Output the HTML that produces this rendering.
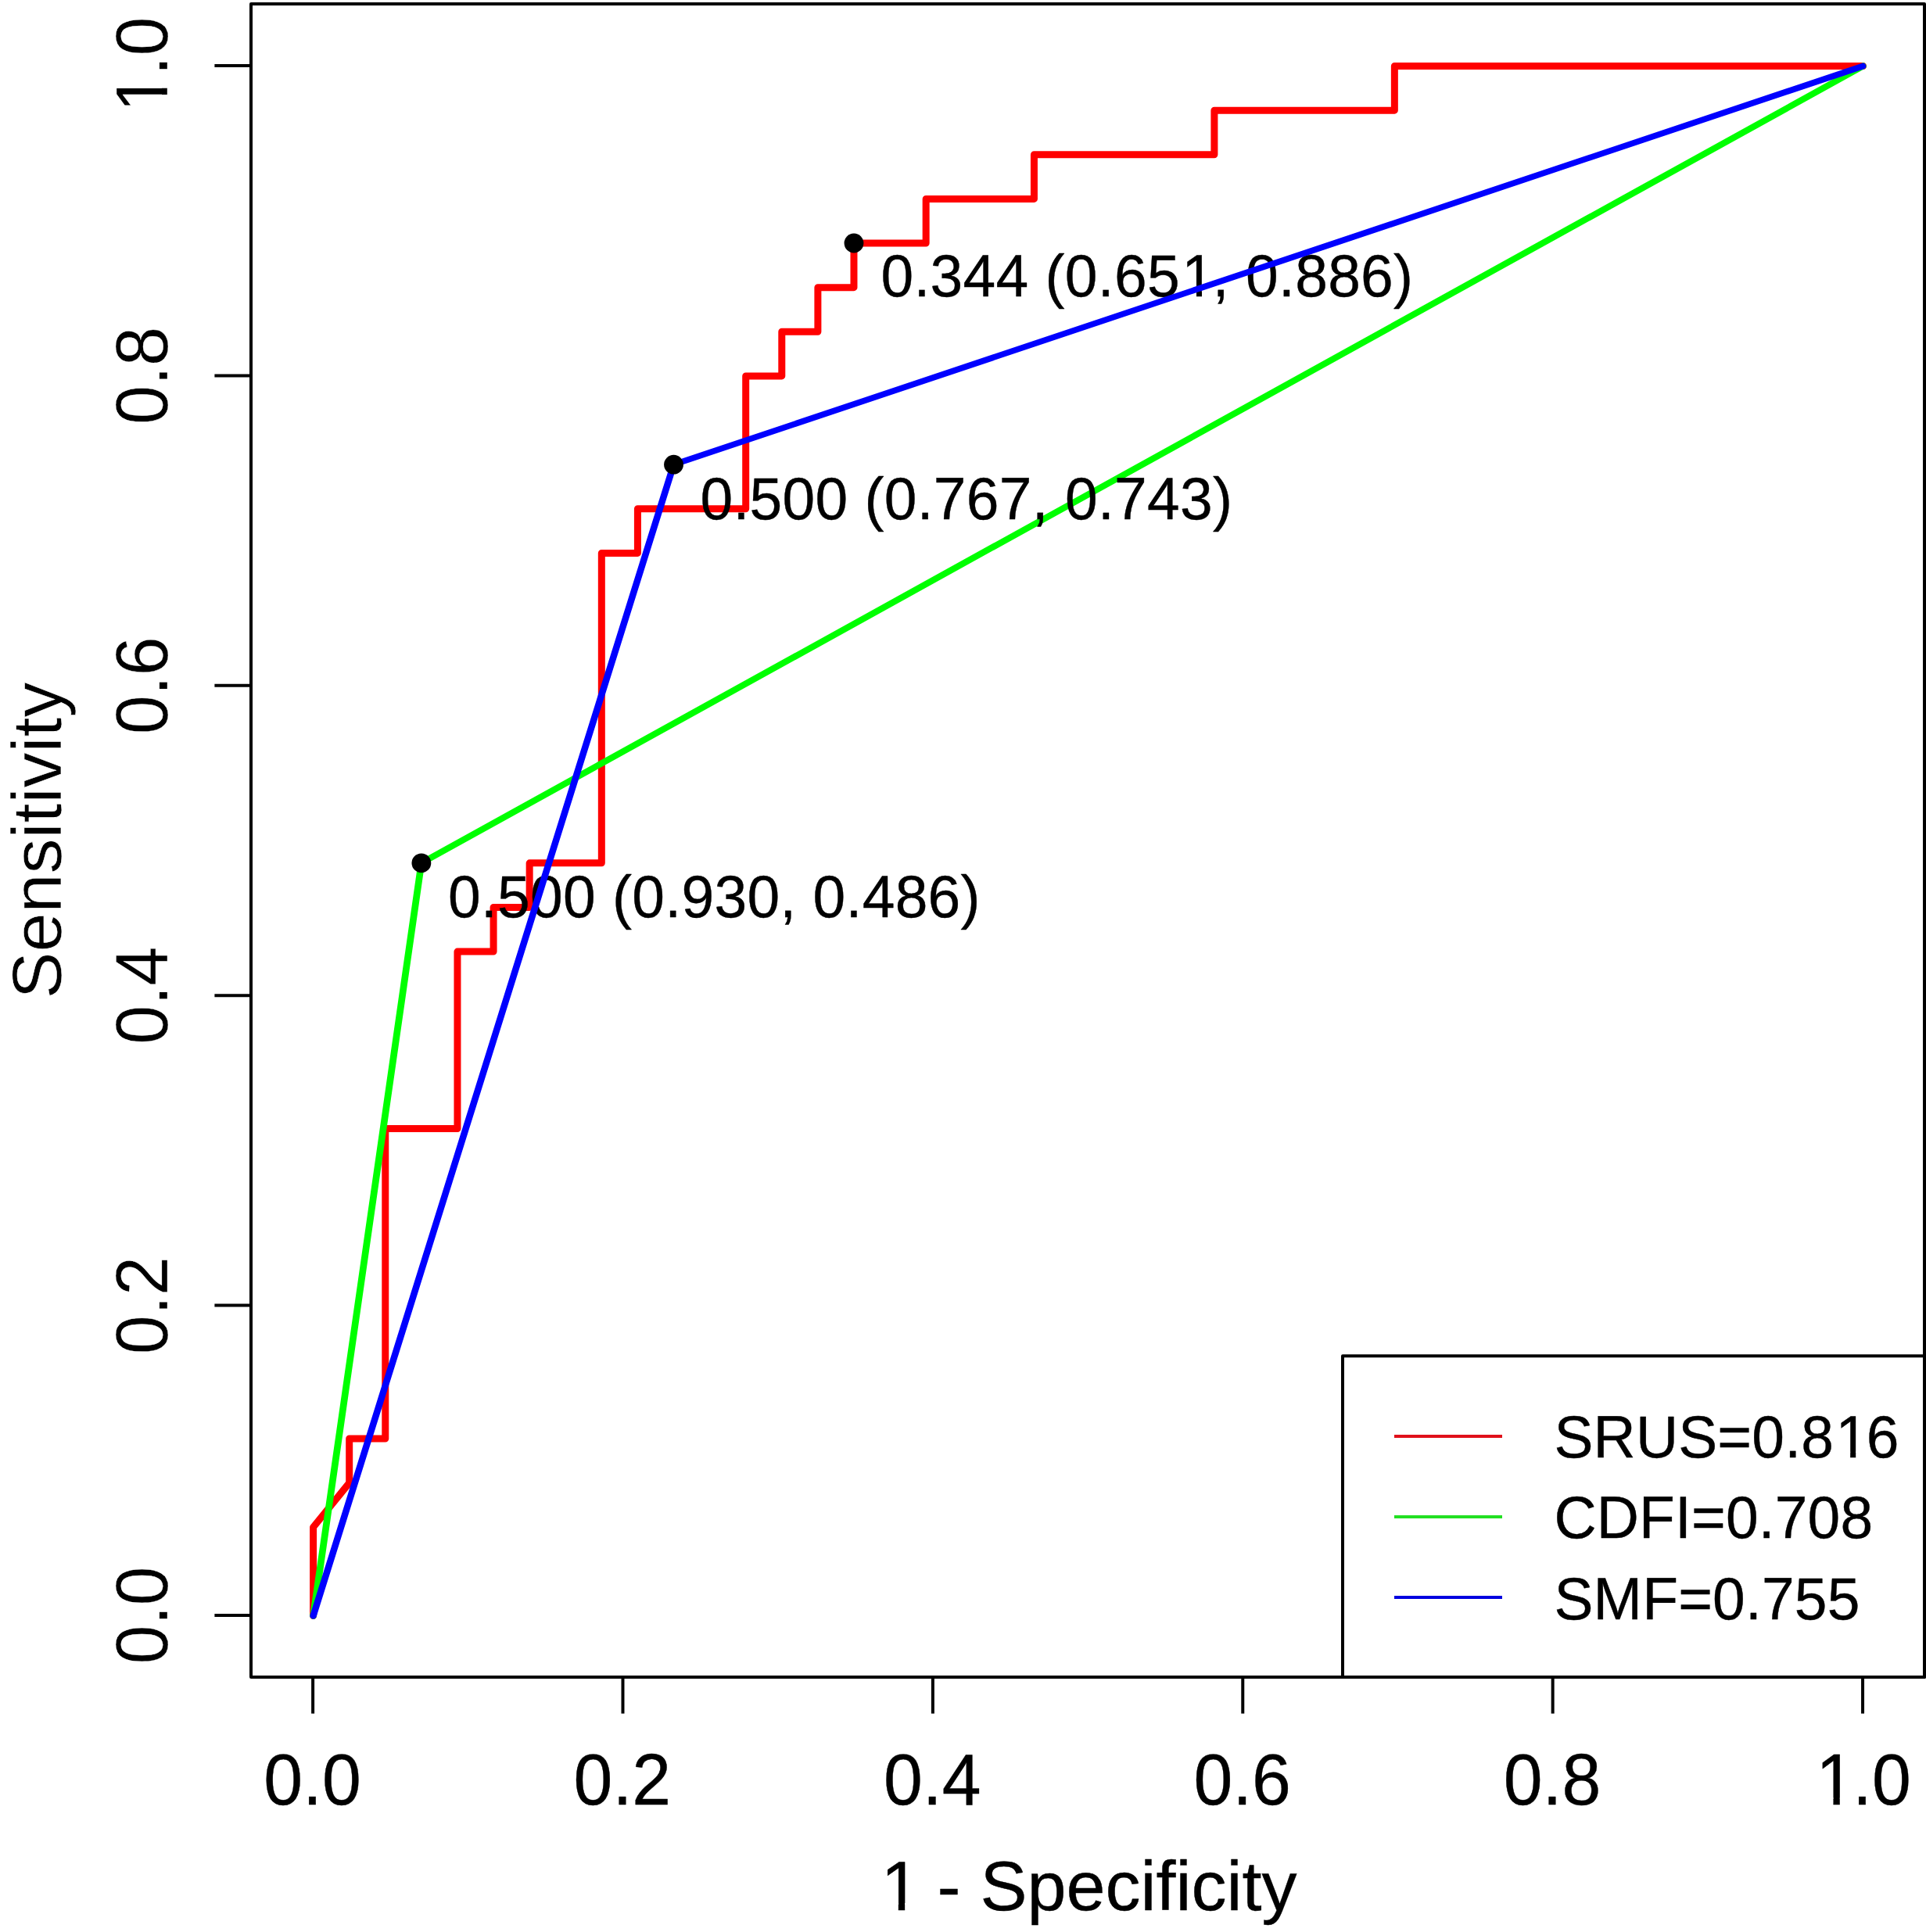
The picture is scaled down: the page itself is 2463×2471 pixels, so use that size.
<!DOCTYPE html>
<html lang="en"><head><meta charset="utf-8"><title>ROC curves</title>
<style>html,body{margin:0;padding:0;background:#fff}svg{display:block}text{font-family:"Liberation Sans",sans-serif;font-kerning:none;fill:#000;stroke-linejoin:round}</style>
</head><body>
<svg width="2463" height="2471" viewBox="0 0 2463 2471">
<defs><clipPath id="k1"><path clip-rule="evenodd" d="M-3000 -3000H3000V3000H-3000ZM389.13 -7.40H403.58V2.70H389.13ZM410.60 -7.40H424.46V2.70H410.60Z"/></clipPath><clipPath id="k2"><path clip-rule="evenodd" d="M-3000 -3000H3000V3000H-3000ZM364.33 -7.40H378.77V2.70H364.33ZM385.80 -7.40H399.66V2.70H385.80Z"/></clipPath><clipPath id="k3"><path clip-rule="evenodd" d="M-3000 -3000H3000V3000H-3000ZM-53.99 -8.49H-36.99V2.70H-53.99ZM-28.68 -8.49H-12.37V2.70H-28.68Z"/></clipPath><clipPath id="k4"><path clip-rule="evenodd" d="M-3000 -3000H3000V3000H-3000ZM-54.23 -8.47H-37.10V2.65H-54.23ZM-28.85 -8.47H-12.43V2.65H-28.85Z"/></clipPath><clipPath id="k5"><path clip-rule="evenodd" d="M-3000 -3000H3000V3000H-3000ZM-259.26 -8.52H-242.18V2.70H-259.26ZM-233.83 -8.52H-217.46V2.70H-233.83Z"/></clipPath></defs>
<rect x="0" y="0" width="2463" height="2471" fill="#fff"/>
<path d="M400.60 2066.50 L400.60 1953.24 L446.69 1896.61 L446.69 1839.99 L492.78 1839.99 L492.78 1443.59 L584.97 1443.59 L584.97 1217.07 L631.06 1217.07 L631.06 1160.44 L677.15 1160.44 L677.15 1103.81 L769.33 1103.81 L769.33 707.41 L815.43 707.41 L815.43 650.79 L953.70 650.79 L953.70 480.90 L999.79 480.90 L999.79 424.27 L1045.89 424.27 L1045.89 367.64 L1091.98 367.64 L1091.98 311.01 L1184.16 311.01 L1184.16 254.39 L1322.44 254.39 L1322.44 197.76 L1552.90 197.76 L1552.90 141.13 L1783.36 141.13 L1783.36 84.50 L2382.55 84.50" fill="none" stroke="#ff0000" stroke-linecap="round" stroke-linejoin="round" stroke-width="9.00"/>
<circle cx="1091.98" cy="311.01" r="12.4" fill="#000"/>
<text transform="translate(1126.40 379.30) scale(1 1.023)" x="0.00" y="0" font-size="75" stroke-width="0.40" stroke="#000" letter-spacing="0.27" dx="0 0 0 0 0 0 0 0 0 0 0 2.48 -2.48" clip-path="url(#k1)">0.344 (0.651, 0.886)</text>
<g fill="none" stroke="#00ff00" stroke-linecap="round">
<path d="M400.60 2066.50 L538.88 1103.81" stroke-width="8.70"/>
<path d="M538.88 1103.81 L2382.55 84.50" stroke-width="8.10"/>
</g>
<circle cx="538.88" cy="1103.81" r="12.4" fill="#000"/>
<text transform="translate(573.00 1173.00) scale(1 1.023)" x="0.00" y="0" font-size="75" stroke-width="0.40" stroke="#000" letter-spacing="0.27">0.500 (0.930, 0.486)</text>
<g fill="none" stroke="#0000ff" stroke-linecap="round">
<path d="M400.60 2066.50 L861.52 594.16" stroke-width="8.50"/>
<path d="M861.52 594.16 L2382.55 84.50" stroke-width="7.70"/>
</g>
<circle cx="861.52" cy="594.16" r="12.4" fill="#000"/>
<text transform="translate(895.40 664.00) scale(1 1.023)" x="0.00" y="0" font-size="75" stroke-width="0.40" stroke="#000" letter-spacing="0.27">0.500 (0.767, 0.743)</text>
<rect x="1717.00" y="1734.30" width="744.00" height="410.70" fill="#fff" stroke="#000" stroke-width="4.0" stroke-linejoin="round"/>
<line x1="1783" y1="1836.9" x2="1921" y2="1836.9" stroke="#e0101a" stroke-width="4.0"/>
<text transform="translate(1987.40 1864.30) scale(1 1.023)" x="0.00" y="0" font-size="75" stroke-width="0.40" stroke="#000" letter-spacing="0.15" dx="0 0 0 0 0 0 0 0 2.48 -2.48" clip-path="url(#k2)">SRUS=0.816</text>
<line x1="1783" y1="1940.0" x2="1921" y2="1940.0" stroke="#22e022" stroke-width="4.0"/>
<text transform="translate(1987.40 1967.40) scale(1 1.023)" x="0.00" y="0" font-size="75" stroke-width="0.40" stroke="#000" letter-spacing="0.15">CDFI=0.708</text>
<line x1="1783" y1="2043.0" x2="1921" y2="2043.0" stroke="#0000e0" stroke-width="4.0"/>
<text transform="translate(1987.40 2070.50) scale(1 1.023)" x="0.00" y="0" font-size="75" stroke-width="0.40" stroke="#000" letter-spacing="0.15">SMF=0.755</text>
<rect x="321.00" y="5.10" width="2140.00" height="2139.90" fill="none" stroke="#000" stroke-width="4.0" stroke-linejoin="round"/>
<g stroke="#000" stroke-width="4.0">
<line x1="400.10" y1="2145.00" x2="400.10" y2="2191.60"/>
<line x1="321.00" y1="2066.00" x2="274.40" y2="2066.00"/>
<line x1="796.49" y1="2145.00" x2="796.49" y2="2191.60"/>
<line x1="321.00" y1="1669.60" x2="274.40" y2="1669.60"/>
<line x1="1192.88" y1="2145.00" x2="1192.88" y2="2191.60"/>
<line x1="321.00" y1="1273.20" x2="274.40" y2="1273.20"/>
<line x1="1589.27" y1="2145.00" x2="1589.27" y2="2191.60"/>
<line x1="321.00" y1="876.80" x2="274.40" y2="876.80"/>
<line x1="1985.66" y1="2145.00" x2="1985.66" y2="2191.60"/>
<line x1="321.00" y1="480.40" x2="274.40" y2="480.40"/>
<line x1="2382.05" y1="2145.00" x2="2382.05" y2="2191.60"/>
<line x1="321.00" y1="84.00" x2="274.40" y2="84.00"/>
</g>
<text transform="translate(399.50 2308.00) scale(1 1.042)" x="-62.28" y="0" font-size="89.6" stroke-width="0.40" stroke="#000">0.0</text>
<text transform="translate(213.90 2066.00) rotate(-90) scale(1 1.045)" x="-62.56" y="0" font-size="90" stroke-width="0.30" stroke="#fff">0.0</text>
<text transform="translate(795.89 2308.00) scale(1 1.042)" x="-62.28" y="0" font-size="89.6" stroke-width="0.40" stroke="#000">0.2</text>
<text transform="translate(213.90 1669.60) rotate(-90) scale(1 1.045)" x="-62.56" y="0" font-size="90" stroke-width="0.30" stroke="#fff">0.2</text>
<text transform="translate(1192.28 2308.00) scale(1 1.042)" x="-62.28" y="0" font-size="89.6" stroke-width="0.40" stroke="#000">0.4</text>
<text transform="translate(213.90 1273.20) rotate(-90) scale(1 1.045)" x="-62.56" y="0" font-size="90" stroke-width="0.30" stroke="#fff">0.4</text>
<text transform="translate(1588.67 2308.00) scale(1 1.042)" x="-62.28" y="0" font-size="89.6" stroke-width="0.40" stroke="#000">0.6</text>
<text transform="translate(213.90 876.80) rotate(-90) scale(1 1.045)" x="-62.56" y="0" font-size="90" stroke-width="0.30" stroke="#fff">0.6</text>
<text transform="translate(1985.06 2308.00) scale(1 1.042)" x="-62.28" y="0" font-size="89.6" stroke-width="0.40" stroke="#000">0.8</text>
<text transform="translate(213.90 480.40) rotate(-90) scale(1 1.045)" x="-62.56" y="0" font-size="90" stroke-width="0.30" stroke="#fff">0.8</text>
<text transform="translate(2381.45 2308.00) scale(1 1.042)" x="-62.28" y="0" font-size="89.6" stroke-width="0.40" stroke="#000" dx="2.96 -2.96" clip-path="url(#k3)">1.0</text>
<text transform="translate(213.90 84.00) rotate(-90) scale(1 1.045)" x="-62.56" y="0" font-size="90" stroke-width="0.30" stroke="#fff" dx="2.97 -2.97" clip-path="url(#k4)">1.0</text>
<text transform="translate(1391.00 2442.50) scale(1 0.990)" x="-267.58" y="0" font-size="90" stroke-width="0.40" stroke="#000" dx="2.97 -2.97" clip-path="url(#k5)">1 - Specificity</text>
<text transform="translate(77.60 1075.00) rotate(-90) scale(1 0.990)" x="-202.57" y="0" font-size="90" stroke-width="0.60" stroke="#fff">Sensitivity</text>
</svg></body></html>
